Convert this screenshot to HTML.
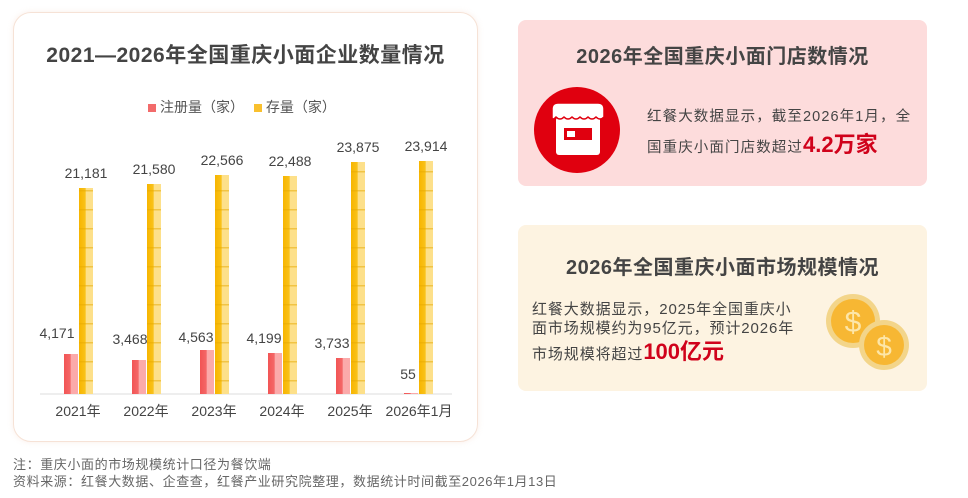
<!DOCTYPE html>
<html><head><meta charset="utf-8"><style>
body{margin:0;width:968px;height:498px;background:#fff;position:relative;overflow:hidden;font-family:"Liberation Sans","Noto Sans CJK SC",sans-serif;color:#444}
.a{position:absolute;white-space:nowrap}
</style></head><body>
<div class="a" style="left:13px;top:12px;width:463px;height:428px;border:1px solid #f6e2d6;border-radius:18px;box-shadow:0 0 6px rgba(240,200,180,.3)"></div>
<div class="a" style="left:13px;top:39px;width:465px;text-align:center;font-size:21px;font-weight:bold;color:#444;letter-spacing:0.5px">2021—2026年全国重庆小面企业数量情况</div>
<div class="a" style="left:148px;top:97px;font-size:14px;color:#555"><span style="display:inline-block;width:8px;height:8px;background:#f26b6b;margin-right:4px"></span>注册量（家） <span style="display:inline-block;width:8px;height:8px;background:#f9c02e;margin:0 4px 0 6px"></span>存量（家）</div>
<svg class="a" style="left:0;top:0" width="480" height="440">
<defs>
<linearGradient id="y" x1="0" x2="1"><stop offset="0" stop-color="#f7b500"/><stop offset=".45" stop-color="#f9c21a"/><stop offset=".5" stop-color="#fde08a"/><stop offset="1" stop-color="#fde08a"/></linearGradient>
<linearGradient id="r" x1="0" x2="1"><stop offset="0" stop-color="#f25555"/><stop offset=".45" stop-color="#f46767"/><stop offset=".5" stop-color="#fbaaaa"/><stop offset="1" stop-color="#fbaaaa"/></linearGradient>
<pattern id="ys" width="14" height="19" patternUnits="userSpaceOnUse"><rect width="14" height="1.5" fill="#e6a800" opacity=".5"/></pattern>
</defs>
<line x1="40" y1="394" x2="452" y2="394" stroke="#ddd"/>
<g font-size="14" fill="#444" text-anchor="middle">
<g>
<rect x="64" y="354" width="14" height="40" fill="url(#r)"/><rect x="79" y="188" width="14" height="206" fill="url(#y)"/>
<text x="57" y="338">4,171</text><text x="86" y="178">21,181</text><text x="78" y="416">2021年</text>
</g>
<g>
<rect x="132" y="360" width="14" height="34" fill="url(#r)"/><rect x="147" y="184" width="14" height="210" fill="url(#y)"/>
<text x="130" y="344">3,468</text><text x="154" y="174">21,580</text><text x="146" y="416">2022年</text>
</g>
<g>
<rect x="200" y="350" width="14" height="44" fill="url(#r)"/><rect x="215" y="175" width="14" height="219" fill="url(#y)"/>
<text x="196" y="342">4,563</text><text x="222" y="165">22,566</text><text x="214" y="416">2023年</text>
</g>
<g>
<rect x="268" y="353" width="14" height="41" fill="url(#r)"/><rect x="283" y="176" width="14" height="218" fill="url(#y)"/>
<text x="264" y="343">4,199</text><text x="290" y="166">22,488</text><text x="282" y="416">2024年</text>
</g>
<g>
<rect x="336" y="358" width="14" height="36" fill="url(#r)"/><rect x="351" y="162" width="14" height="232" fill="url(#y)"/>
<text x="332" y="348">3,733</text><text x="358" y="152">23,875</text><text x="350" y="416">2025年</text>
</g>
<g>
<rect x="404" y="393" width="14" height="1" fill="url(#r)"/><rect x="419" y="161" width="14" height="233" fill="url(#y)"/>
<text x="408" y="379">55</text><text x="426" y="151">23,914</text><text x="419" y="416">2026年1月</text>
</g>
</g>
<g fill="url(#ys)"><rect x="79" y="188" width="14" height="206"/><rect x="147" y="184" width="14" height="210"/><rect x="215" y="175" width="14" height="219"/><rect x="283" y="176" width="14" height="218"/><rect x="351" y="162" width="14" height="232"/><rect x="419" y="161" width="14" height="233"/></g>
</svg>

<div class="a" style="left:518px;top:20px;width:409px;height:166px;background:#fddcdc;border-radius:8px"></div>
<div class="a" style="left:518px;top:40px;width:409px;text-align:center;font-size:20px;font-weight:bold;color:#444;letter-spacing:0.5px">2026年全国重庆小面门店数情况</div>
<svg class="a" style="left:534px;top:87px" width="88" height="88">
<circle cx="43" cy="43" r="43" fill="#e0000f"/>
<rect x="22" y="30" width="44" height="38" rx="3" fill="#fff"/>
<path d="M18 22 Q18 16 24 16 L64 16 Q70 16 70 22 L70 30 Q66 34 62 30 Q58 34 54 30 Q50 34 46 30 Q42 34 38 30 Q34 34 30 30 Q26 34 22 30 Q18 34 18 30 Z" fill="#fff" stroke="#e0000f" stroke-width="1.5"/>
<rect x="30" y="41" width="28" height="12" fill="#e0000f"/><rect x="33" y="44" width="8" height="6" fill="#fff"/>
</svg>
<div class="a" style="left:647px;top:104px;font-size:14.5px;line-height:27px;color:#444;letter-spacing:1.1px">红餐大数据显示，截至2026年1月，全<br>国重庆小面门店数超过<span style="color:#d0021b;font-size:22px;font-weight:bold;letter-spacing:0">4.2万家</span></div>

<div class="a" style="left:518px;top:225px;width:409px;height:166px;background:#fdf3e1;border-radius:8px"></div>
<div class="a" style="left:518px;top:251px;width:409px;text-align:center;font-size:20px;font-weight:bold;color:#444;letter-spacing:0.5px">2026年全国重庆小面市场规模情况</div>
<div class="a" style="left:532px;top:300px;font-size:15px;line-height:19px;color:#444;letter-spacing:0.9px">红餐大数据显示，2025年全国重庆小<br>面市场规模约为95亿元，预计2026年<br><span style="display:inline-block;margin-top:4px">市场规模将超过<span style="color:#d0021b;font-size:22px;font-weight:bold;letter-spacing:0">100亿元</span></span></div>
<svg class="a" style="left:820px;top:290px" width="100" height="85">
<circle cx="33" cy="31" r="27" fill="#f3d58a"/><circle cx="33" cy="31" r="22" fill="#f7b733"/>
<text x="33" y="42" font-size="30" fill="#fde6a8" text-anchor="middle" font-family="Liberation Sans">$</text>
<circle cx="64" cy="55" r="25" fill="#f3d58a"/><circle cx="64" cy="55" r="20" fill="#f7b733"/>
<text x="64" y="66" font-size="28" fill="#fde6a8" text-anchor="middle" font-family="Liberation Sans">$</text>
</svg>

<div class="a" style="left:13px;top:456px;font-size:13px;color:#666;line-height:17px;letter-spacing:0.6px">注：重庆小面的市场规模统计口径为餐饮端<br>资料来源：红餐大数据、企查查，红餐产业研究院整理，数据统计时间截至2026年1月13日</div>
</body></html>
